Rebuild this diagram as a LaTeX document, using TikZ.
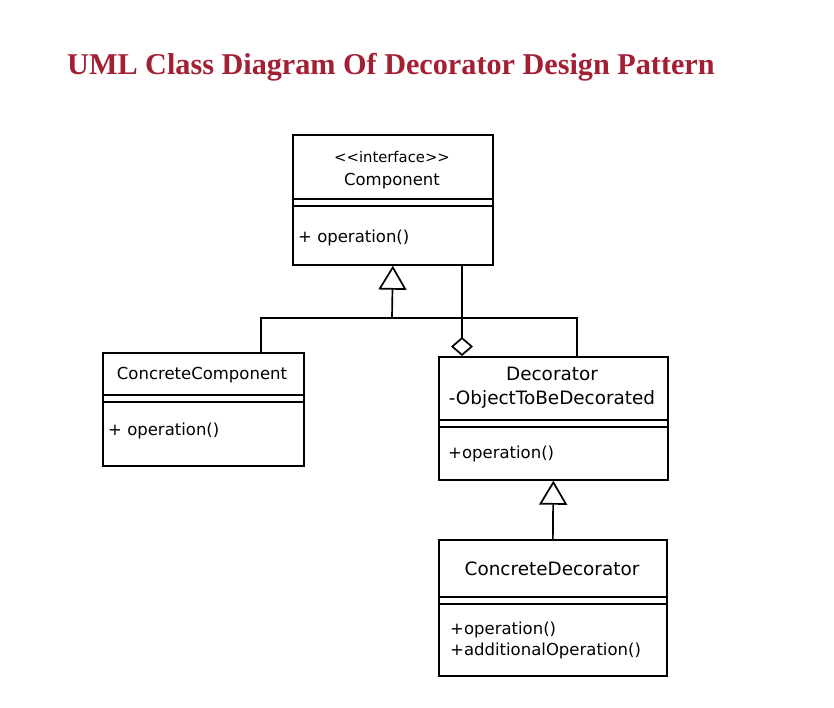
\documentclass[tikz,border=0pt]{standalone}
\usepackage{fontspec}
\setmainfont{Liberation Serif}
\newfontfamily\boxfont{DejaVu Sans}
\usetikzlibrary{arrows.meta,calc}
\definecolor{titlered}{RGB}{163,31,52}
\begin{document}
\begin{tikzpicture}[x=1pt,y=-1pt,
  cls/.style={draw=black,line width=1.7pt,anchor=north west,inner sep=0pt},
  lbl/.style={font=\boxfont\fontsize{16.5}{19}\selectfont,inner sep=0pt,anchor=mid},
  big/.style={font=\boxfont\fontsize{18.4}{21}\selectfont,inner sep=0pt,anchor=mid},
  lbll/.style={font=\boxfont\fontsize{16.5}{19}\selectfont,inner sep=0pt,anchor=mid west},
  small/.style={font=\boxfont\fontsize{14.8}{17}\selectfont,inner sep=0pt,anchor=mid},
  conn/.style={line width=1.7pt},
  inh/.style={conn,-{Triangle[open,length=24pt,width=28pt]}},
  agg/.style={conn,-{Diamond[open,length=19pt,width=22pt]}}]
\useasboundingbox (0,0) rectangle (834,707);
% title
\node[font=\bfseries\fontsize{30.2}{35}\selectfont,text=titlered,anchor=base west,inner sep=0pt] (title) at (67,74) {UML Class Diagram Of Decorator Design Pattern};
% class boxes
\node[cls,minimum width=200pt,minimum height=130pt] (comp) at (292,134) {};
\node[cls,minimum width=201pt,minimum height=113pt] (cc) at (102,352) {};
\node[cls,minimum width=229pt,minimum height=123pt] (dec) at (438,356) {};
\node[cls,minimum width=228pt,minimum height=136pt] (cd) at (438,539) {};
% dividers
\draw[conn] ($(comp.north west)+(0,65)$) -- ($(comp.north east)+(0,65)$);
\draw[conn] ($(comp.north west)+(0,72)$) -- ($(comp.north east)+(0,72)$);
\draw[conn] ($(cc.north west)+(0,43)$) -- ($(cc.north east)+(0,43)$);
\draw[conn] ($(cc.north west)+(0,50)$) -- ($(cc.north east)+(0,50)$);
\draw[conn] ($(dec.north west)+(0,64)$) -- ($(dec.north east)+(0,64)$);
\draw[conn] ($(dec.north west)+(0,71)$) -- ($(dec.north east)+(0,71)$);
\draw[conn] ($(cd.north west)+(0,58)$) -- ($(cd.north east)+(0,58)$);
\draw[conn] ($(cd.north west)+(0,65)$) -- ($(cd.north east)+(0,65)$);
% texts
\node[small] (compst) at (392,160) {<<interface>>};
\node[lbl] (compname) at (392,183) {Component};
\node[lbll] (compop) at (298,240) {+ operation()};
\node[lbl] (ccname) at (202,377) {ConcreteComponent};
\node[lbll] (ccop) at (108,433) {+ operation()};
\node[big] (decname) at (552,378) {Decorator};
\node[big] (decattr) at (552,402) {-ObjectToBeDecorated};
\node[lbll] (decop) at (448,456) {+operation()};
\node[big] (cdname) at (552,573) {ConcreteDecorator};
\node[lbll] (cdop1) at (450,632) {+operation()};
\node[lbll] (cdop2) at (450,653) {+additionalOperation()};
% connectors
\coordinate (j) at (392,318);
\coordinate (jl) at (261,318);
\coordinate (jr) at (577,318);
\coordinate (ccTop) at (261,352);
\coordinate (decTop) at (577,356);
\coordinate (aggTop) at (462,264);
\coordinate (aggBot) at (462,356);
\draw[inh] (j) -- (comp.south);
\draw[conn] (ccTop) -- (jl) -- (jr) -- (decTop);
\draw[agg] (aggTop) -- (aggBot);
\draw[inh] (cd.north) -- (dec.south);
\end{tikzpicture}
\end{document}
